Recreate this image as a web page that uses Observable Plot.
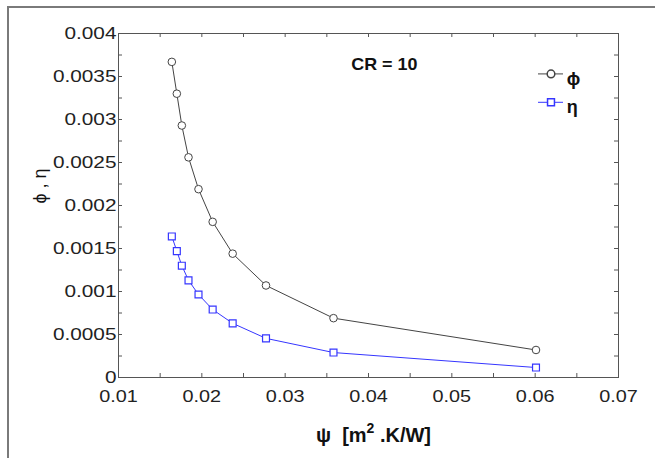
<!DOCTYPE html>
<html><head><meta charset="utf-8">
<script src="https://cdn.jsdelivr.net/npm/d3@7"></script>
<script src="https://cdn.jsdelivr.net/npm/@observablehq/plot@0.6"></script>
<style>
body{margin:0;background:#fff;}
#wrap{position:relative;width:655px;height:458px;overflow:hidden;background:#fff;}
#wrap svg{position:absolute;left:0;top:0;}
#border{position:absolute;left:7px;top:6px;right:-10px;bottom:-10px;border-top:2px solid #7a7a7a;border-left:2px solid #7a7a7a;pointer-events:none;}
</style></head><body><div id="wrap"><div id="border"></div></div>
<script>
// Data
const psi = [0.0164, 0.0170, 0.0176, 0.0184, 0.0196, 0.0213, 0.0237, 0.0277, 0.0358, 0.0601];
const phi = [0.00367, 0.00330, 0.00293, 0.00256, 0.00219, 0.00181, 0.00144, 0.00107, 0.00069, 0.00032];
const eta = [0.00164, 0.00147, 0.00130, 0.00113, 0.000965, 0.00079, 0.00063, 0.000455, 0.00029, 0.000116];
const seriesNames = ["\u03D5", "\u03B7"];
const xTicks = [0.01, 0.02, 0.03, 0.04, 0.05, 0.06, 0.07];
const xTickLabels = ["0.01", "0.02", "0.03", "0.04", "0.05", "0.06", "0.07"];
const yTicks = [0, 0.0005, 0.001, 0.0015, 0.002, 0.0025, 0.003, 0.0035, 0.004];
const yTickLabels = ["0", "0.0005", "0.001", "0.0015", "0.002", "0.0025", "0.003", "0.0035", "0.004"];
const xMinorTicks = [0.01, 0.015, 0.02, 0.025, 0.03, 0.035, 0.04, 0.045, 0.05, 0.055, 0.06, 0.065, 0.07];
const yMinorTicks = [0, 0.00025, 0.0005, 0.00075, 0.001, 0.00125, 0.0015, 0.00175, 0.002, 0.00225, 0.0025, 0.00275, 0.003, 0.00325, 0.0035, 0.00375, 0.004];
const annotation = "CR = 10";
const xLabel = "\u03C8  [m2 .K/W]";
const yLabel = "\u03D5 , \u03B7";

const rows = psi.map((p, i) => ({psi: p, phi: phi[i], eta: eta[i]}));
const W = 655, H = 458, mL = 118, mR = 37, mT = 33, mB = 81;
const fw = W - mL - mR, fh = H - mT - mB;
const axisCol = "#555", phiCol = "#444", etaCol = "#3636ff";
const tl = 4;

const chart = Plot.plot({
  width: W, height: H,
  marginLeft: mL, marginRight: mR, marginTop: mT, marginBottom: mB,
  style: {fontFamily: "'Liberation Sans', Arial, sans-serif", background: "transparent"},
  x: {domain: [0.01, 0.07]},
  y: {domain: [0, 0.004]},
  marks: [
    Plot.frame({stroke: axisCol}),
    Plot.tickX(xMinorTicks, {x: d => d, insetTop: fh - tl, stroke: axisCol}),
    Plot.tickX(xMinorTicks, {x: d => d, insetBottom: fh - tl, stroke: axisCol}),
    Plot.tickY(yMinorTicks, {y: d => d, insetRight: fw - tl, stroke: axisCol}),
    Plot.tickY(yMinorTicks, {y: d => d, insetLeft: fw - tl, stroke: axisCol}),
    Plot.axisX(xTicks, {tickSize: 0, tickPadding: 13, fontSize: 16, fill: "#222", label: null,
      tickFormat: d => xTickLabels[xTicks.indexOf(d)]}),
    Plot.axisY(yTicks, {tickSize: 0, tickPadding: 2, fontSize: 16, fill: "#222", label: null,
      tickFormat: d => yTickLabels[yTicks.indexOf(d)]}),
    Plot.line(rows, {x: "psi", y: "phi", stroke: phiCol, strokeWidth: 1}),
    Plot.line(rows, {x: "psi", y: "eta", stroke: etaCol, strokeWidth: 1}),
    Plot.dot(rows, {x: "psi", y: "phi", symbol: "circle", r: 3.8, fill: "white", stroke: phiCol, strokeWidth: 1}),
    Plot.dot(rows, {x: "psi", y: "eta", symbol: "square", r: 3.9, fill: "white", stroke: etaCol, strokeWidth: 1.2}),
    Plot.text([annotation], {x: 0.0419, y: 0.00364, text: d => d, fontWeight: "bold", fontSize: 16, fill: "#111"}),
    Plot.ruleY([0.00353], {x1: 0.0604, x2: 0.0634, stroke: phiCol}),
    Plot.dot([0], {x: 0.0619, y: 0.00353, symbol: "circle", r: 3.8, fill: "white", stroke: phiCol}),
    Plot.text([seriesNames[0]], {x: 0.0638, y: 0.00353, dy: 5, text: d => d, textAnchor: "start", fontWeight: "bold", fontSize: 18, fill: "#111"}),
    Plot.ruleY([0.00320], {x1: 0.0604, x2: 0.0634, stroke: etaCol}),
    Plot.dot([0], {x: 0.0619, y: 0.00320, symbol: "square", r: 3.9, fill: "white", stroke: etaCol}),
    Plot.text([seriesNames[1]], {x: 0.0638, y: 0.00320, dy: 5, text: d => d, textAnchor: "start", fontWeight: "bold", fontSize: 18, fill: "#111"}),
    Plot.text([xLabel], {frameAnchor: "bottom", dx: 5, dy: 64, text: d => d, fontWeight: "bold", fontSize: 20, fill: "#111"}),
    Plot.text([yLabel], {frameAnchor: "left", rotate: -90, dx: -78, dy: -2, text: d => d, fontSize: 18, fill: "#111"})
  ]
});
const wrap = document.getElementById("wrap");
wrap.insertBefore(chart, wrap.firstChild);

// widen glyphs horizontally, as in the reference's wide tick-label face
function stretch(t, f) {
  const tr = t.getAttribute("transform") || "";
  t.setAttribute("transform", tr + ` scale(${f},1)`);
}
chart.querySelectorAll('g[aria-label$="tick label"]').forEach(g => {
  const isY = (g.getAttribute("aria-label") || "").startsWith("y");
  g.querySelectorAll("text").forEach(t => stretch(t, isY ? 1.3 : 1.24));
});
chart.querySelectorAll("text").forEach(t => {
  if (t.textContent === annotation) stretch(t, 1.12);
  if (t.textContent === xLabel) {
    const ns = "http://www.w3.org/2000/svg";
    t.textContent = "";
    const a = document.createElementNS(ns, "tspan"); a.textContent = "\u03C8  [m";
    const b = document.createElementNS(ns, "tspan"); b.textContent = "2"; b.setAttribute("dy", "-9"); b.setAttribute("font-size", "14");
    const c = document.createElementNS(ns, "tspan"); c.textContent = " .K/W]"; c.setAttribute("dy", "9");
    t.append(a, b, c);
  }
});
</script>
</body></html>
